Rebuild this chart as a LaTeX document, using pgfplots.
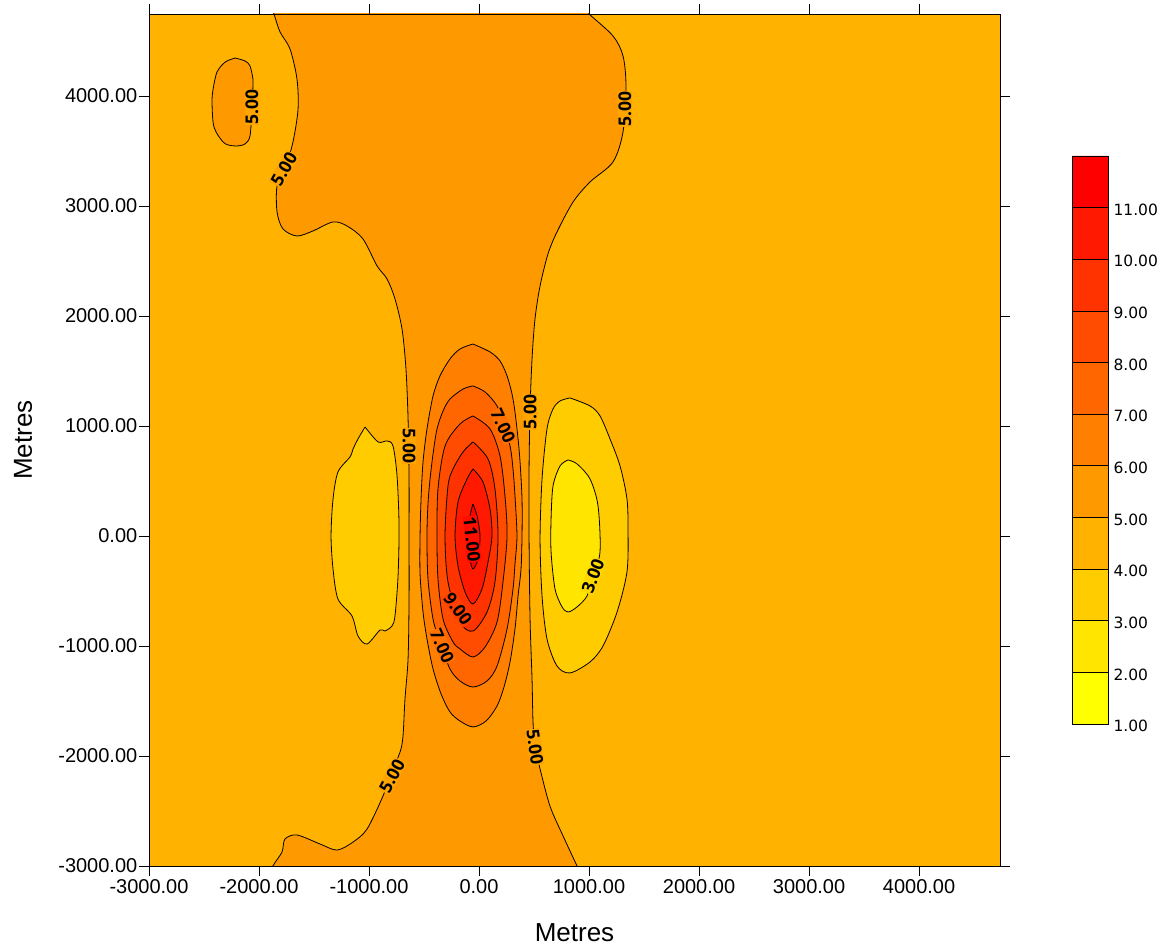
\documentclass[border=0pt]{standalone}
\usepackage{pgfplots}
\pgfplotsset{compat=1.18}
\usepackage{fontspec}
\setmainfont{Liberation Sans}
\newfontfamily\cbfont{DejaVu Sans}
\newfontfamily\lblfont{Open Sans}
\definecolor{c12}{RGB}{255,255,0}
\definecolor{c23}{RGB}{255,229,0}
\definecolor{c34}{RGB}{255,204,0}
\definecolor{c45}{RGB}{255,178,0}
\definecolor{c56}{RGB}{255,153,0}
\definecolor{c67}{RGB}{255,127,0}
\definecolor{c78}{RGB}{255,102,0}
\definecolor{c89}{RGB}{255,76,0}
\definecolor{c910}{RGB}{255,51,0}
\definecolor{c1011}{RGB}{255,25,0}
\definecolor{c1112}{RGB}{255,0,0}
\definecolor{m23}{RGB}{255,216,0}
\definecolor{m45}{RGB}{255,165,0}
\definecolor{m67}{RGB}{255,114,0}
\definecolor{m89}{RGB}{255,63,0}
\definecolor{m1011}{RGB}{255,14,0}
\begin{document}
\begin{tikzpicture}[x=1pt,y=1pt]
\begin{axis}[
  at={(149pt,82pt)}, anchor=south west,
  scale only axis, width=851pt, height=852pt,
  xmin=-3000, xmax=4736, ymin=-3000, ymax=4745,
  xtick={-3000,-2000,...,4000}, ytick={-3000,-2000,...,4000},
  tick align=outside, major tick length=10pt,
  tick style={black, line width=0.7pt},
  axis line style={line width=0.7pt},
  axis on top,
  axis background/.style={fill=c45},
  ticklabel style={font=\fontsize{20}{24}\selectfont},
  yticklabel style={inner xsep=1.5pt},
  /pgf/number format/.cd, fixed, fixed zerofill, precision=2, 1000 sep={}, assume math mode=true,
  /pgfplots/.cd,
  xlabel={Metres}, ylabel={Metres},
  every axis x label/.style={at={(axis description cs:0.5,0)}, yshift=-67pt, anchor=center, font=\fontsize{26}{30}\selectfont},
  every axis y label/.style={at={(axis description cs:0,0.5)}, xshift=-126pt, rotate=90, anchor=center, font=\fontsize{26}{30}\selectfont},
  every axis plot/.append style={smooth, tension=0.5, draw=black, line width=0.8pt},
]
% 5-6 band
\addplot[fill=c56] coordinates {
(-1918,4900) (-1864,4745) (-1809,4582) (-1718,4427) (-1655,4155) (-1645,3882) (-1691,3582) (-1764,3336) (-1836,3182) (-1836,2945) (-1782,2791) (-1655,2727) (-1509,2773) (-1327,2855) (-1200,2818) (-1055,2700) (-927,2455) (-836,2336) (-764,2155) (-700,1882) (-664,1518) (-645,1064) (-636,518) (-636,-27) (-636,-573) (-645,-1118) (-673,-1482) (-691,-1818) (-718,-1964) (-809,-2182) (-873,-2364) (-1018,-2664) (-1145,-2782) (-1291,-2855) (-1445,-2800) (-1655,-2718) (-1764,-2755) (-1791,-2873) (-1873,-3000) (-1890,-3100)
(936,-3100) (891,-3000) (764,-2727) (645,-2455) (555,-2118) (509,-1909) (491,-1691) (482,-1300) (464,-755) (455,-27) (455,609) (464,1155) (482,1609) (509,1973) (555,2273) (627,2564) (709,2764) (855,3036) (1009,3218) (1218,3400) (1309,3673) (1336,4091) (1309,4364) (1218,4545) (1000,4745) (836,4900) (-1918,4900)};
% island 5-6
\addplot[fill=c56] coordinates {
(-2218,4345) (-2127,4318) (-2082,4273) (-2055,4155) (-2055,4091) (-2064,3882) (-2082,3636) (-2127,3564) (-2200,3545) (-2282,3555) (-2327,3582) (-2391,3673) (-2418,3764) (-2427,3973) (-2409,4109) (-2382,4218) (-2336,4282) (-2291,4318) (-2218,4345)};
% left lobe 3-4
\addplot[fill=c34] coordinates {
(-1036,991) (-918,855) (-836,864) (-782,818) (-745,545) (-727,91) (-736,-364) (-764,-727) (-791,-818) (-855,-864) (-900,-855) (-1018,-982) (-1100,-909) (-1155,-727) (-1282,-573) (-1327,-300) (-1345,0) (-1327,336) (-1282,582) (-1173,718) (-1145,791) (-1100,882) (-1036,991)};
% right lobe 3-4
\addplot[fill=c34] coordinates {
(827,1255) (1009,1182) (1100,1091) (1191,882) (1282,636) (1345,336) (1355,36) (1345,-327) (1255,-691) (1127,-1000) (1009,-1145) (827,-1245) (709,-1182) (618,-936) (573,-545) (555,-27) (573,518) (618,973) (673,1155) (736,1227) (827,1255)};
% right inner 2-3
\addplot[fill=c23] coordinates {
(809,691) (891,655) (1009,518) (1082,273) (1100,-145) (1036,-364) (982,-545) (891,-645) (809,-691) (755,-645) (691,-482) (655,-145) (655,155) (673,455) (736,636) (809,691)};
% 6
\addplot[fill=c67] coordinates {
(-55,1745) (100,1673) (191,1591) (255,1455) (300,1291) (327,1127) (355,882) (373,673) (391,336) (391,0) (382,-300) (355,-545) (327,-845) (282,-1145) (227,-1373) (164,-1545) (64,-1682) (-55,-1736) (-173,-1682) (-264,-1600) (-345,-1436) (-418,-1209) (-473,-936) (-509,-691) (-536,-345) (-536,0) (-527,336) (-509,673) (-473,973) (-418,1273) (-355,1455) (-264,1609) (-173,1700) (-55,1745)};
% 7
\addplot[fill=c78] coordinates {
(-55,1364) (55,1309) (164,1182) (218,1018) (282,818) (309,609) (327,364) (345,0) (327,-255) (309,-482) (255,-845) (164,-1182) (73,-1318) (-55,-1373) (-173,-1318) (-264,-1209) (-355,-964) (-418,-755) (-464,-391) (-473,0) (-464,291) (-445,518) (-418,745) (-382,973) (-327,1136) (-264,1245) (-145,1336) (-55,1364)};
% 8
\addplot[fill=c89] coordinates {
(-55,1091) (100,973) (191,727) (236,364) (255,0) (218,-418) (164,-782) (55,-1009) (-55,-1100) (-173,-1027) (-236,-964) (-327,-755) (-373,-391) (-382,0) (-373,427) (-309,818) (-173,1018) (-55,1091)};
% 9
\addplot[fill=c910] coordinates {
(-55,855) (82,700) (145,427) (173,0) (145,-418) (73,-691) (-55,-864) (-173,-782) (-282,-418) (-309,0) (-282,455) (-236,609) (-145,764) (-55,855)};
% 10
\addplot[fill=c1011] coordinates {
(-55,609) (36,491) (100,245) (118,0) (82,-236) (27,-482) (-55,-618) (-127,-509) (-191,-273) (-218,0) (-191,309) (-109,518) (-55,609)};
% 11
\addplot[fill=c1112] coordinates {
(-55,291) (-18,182) (9,0) (-9,-209) (-55,-300) (-82,-209) (-100,0) (-82,182) (-55,291)};
% labels
\tikzset{lbl/.style={font=\lblfont\bfseries\fontsize{17.5}{17.5}\selectfont, inner sep=0.6pt}}
\node[lbl, rotate=90, fill=m45] at (-2064,3900) {5.00};
\node[lbl, rotate=60, fill=m45] at (-1773,3336) {5.00};
\node[lbl, rotate=90, fill=m45] at (1327,3882) {5.00};
\node[lbl, rotate=-90, fill=m45] at (-636,818) {5.00};
\node[lbl, rotate=90, fill=m45] at (464,1127) {5.00};
\node[lbl, rotate=-65, fill=m67] at (218,1000) {7.00};
\node[lbl, rotate=-84, fill=m1011] at (-64,-27) {11.00};
\node[lbl, rotate=-54, fill=m89] at (-191,-664) {9.00};
\node[lbl, rotate=-66, fill=m67] at (-336,-1000) {7.00};
\node[lbl, rotate=69, fill=m23] at (1036,-364) {3.00};
\node[lbl, rotate=-82, fill=m45] at (509,-1918) {5.00};
\node[lbl, rotate=62, fill=m45] at (-791,-2182) {5.00};
\end{axis}
\begin{axis}[
  at={(1072pt,224pt)}, anchor=south west,
  scale only axis, width=36pt, height=568pt,
  xmin=0, xmax=1, ymin=1, ymax=12,
  xtick=\empty, ytick={1,...,11},
  yticklabel pos=right, major tick length=0pt,
  axis on top, axis line style={line width=0.7pt},
  yticklabel style={font=\cbfont\fontsize{15.5}{17}\selectfont, xshift=2pt, yshift=-2pt},
  /pgf/number format/.cd, fixed, fixed zerofill, precision=2, assume math mode=true,
  /pgfplots/.cd,
  every axis plot/.append style={draw=black, line width=0.7pt},
]
\addplot[fill=c12] coordinates {(0,1) (1,1) (1,2) (0,2) (0,1)};
\addplot[fill=c23] coordinates {(0,2) (1,2) (1,3) (0,3) (0,2)};
\addplot[fill=c34] coordinates {(0,3) (1,3) (1,4) (0,4) (0,3)};
\addplot[fill=c45] coordinates {(0,4) (1,4) (1,5) (0,5) (0,4)};
\addplot[fill=c56] coordinates {(0,5) (1,5) (1,6) (0,6) (0,5)};
\addplot[fill=c67] coordinates {(0,6) (1,6) (1,7) (0,7) (0,6)};
\addplot[fill=c78] coordinates {(0,7) (1,7) (1,8) (0,8) (0,7)};
\addplot[fill=c89] coordinates {(0,8) (1,8) (1,9) (0,9) (0,8)};
\addplot[fill=c910] coordinates {(0,9) (1,9) (1,10) (0,10) (0,9)};
\addplot[fill=c1011] coordinates {(0,10) (1,10) (1,11) (0,11) (0,10)};
\addplot[fill=c1112] coordinates {(0,11) (1,11) (1,12) (0,12) (0,11)};
\end{axis}
\pgfresetboundingbox
\path[use as bounding box] (0,0) rectangle (1168,948);
\end{tikzpicture}
\end{document}
